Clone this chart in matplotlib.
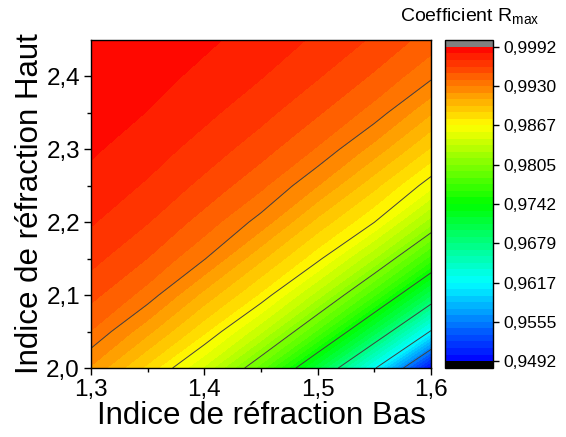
import numpy as np
import matplotlib
matplotlib.use("Agg")
import matplotlib.pyplot as plt
from matplotlib.colors import LinearSegmentedColormap, Normalize

plt.rcParams['font.family'] = ['Liberation Sans', 'DejaVu Sans']

# indices (bas = x, haut = y)
n_bas = [1.30, 1.35, 1.40, 1.45, 1.50, 1.55, 1.60]
n_haut = [2.00, 2.05, 2.10, 2.15, 2.20, 2.25, 2.30, 2.35, 2.40, 2.45]

R_max = [
    [0.99177, 0.98848, 0.98444, 0.97884, 0.97132, 0.96206, 0.94920],
    [0.99395, 0.99116, 0.98797, 0.98377, 0.97811, 0.97069, 0.96147],
    [0.99536, 0.99354, 0.99051, 0.98753, 0.98307, 0.97744, 0.97008],
    [0.99642, 0.99501, 0.99302, 0.99002, 0.98704, 0.98252, 0.97681],
    [0.99722, 0.99612, 0.99458, 0.99250, 0.98948, 0.98671, 0.98193],
    [0.99783, 0.99698, 0.99577, 0.99424, 0.99192, 0.98909, 0.98604],
    [0.99830, 0.99762, 0.99668, 0.99548, 0.99387, 0.99147, 0.98864],
    [0.99865, 0.99813, 0.99738, 0.99643, 0.99516, 0.99355, 0.99096],
    [0.99893, 0.99851, 0.99792, 0.99717, 0.99616, 0.99488, 0.99317],
    [0.99915, 0.99881, 0.99834, 0.99775, 0.99694, 0.99592, 0.99456],
]

cb_ticks = [0.9492, 0.95545, 0.9617, 0.96795, 0.9742, 0.98045, 0.9867, 0.99295, 0.9992]
cb_labels = ['0,9492', '0,9555', '0,9617', '0,9679', '0,9742', '0,9805', '0,9867', '0,9930', '0,9992']
x_ticks = [1.3, 1.4, 1.5, 1.6]
x_labels = ['1,3', '1,4', '1,5', '1,6']
y_ticks = [2.0, 2.1, 2.2, 2.3, 2.4]
y_labels = ['2,0', '2,1', '2,2', '2,3', '2,4']

X, Y = np.meshgrid(n_bas, n_haut)
Z = np.array(R_max)

rmin, rmax = cb_ticks[0], cb_ticks[-1]
levels = np.linspace(rmin, rmax, 49)
line_levels = cb_ticks[1:-1]

cmap = LinearSegmentedColormap.from_list(
    'origin', ['#0000ff', '#00ffff', '#00ff00', '#ffff00', '#ff0000'])
cmap.set_under('black')
cmap.set_over('#808080')

fig = plt.figure(figsize=(5.66, 4.37), dpi=100)
ax = fig.add_axes([91/566, 69/437, 340/566, 328/437])
cax = fig.add_axes([445/566, 69/437, 48/566, 328/437])

cs = ax.contourf(X, Y, Z, levels=levels, cmap=cmap,
                 norm=Normalize(rmin, rmax), extend='both')
ax.contour(X, Y, Z, levels=line_levels, colors='#404040', linewidths=0.7)

ax.set_xlim(1.3, 1.6)
ax.set_ylim(2.0, 2.45)
ax.set_xticks(x_ticks, x_labels)
ax.set_yticks(y_ticks, y_labels)
ax.set_xticks([1.35, 1.45, 1.55], minor=True)
ax.set_yticks([2.05, 2.15, 2.25, 2.35], minor=True)
ax.tick_params(which='both', direction='out', labelsize=17.5, width=1)
ax.tick_params(which='major', length=5, pad=3)
ax.tick_params(which='minor', length=3)
for s in ax.spines.values():
    s.set_linewidth(1)
ax.set_xlabel('Indice de réfraction Bas', fontsize=22.5, labelpad=0)
ax.set_ylabel('Indice de réfraction Haut', fontsize=22.5, labelpad=1)

cb = fig.colorbar(cs, cax=cax, extendrect=True, extendfrac=0.022)
cb.set_ticks(cb_ticks, labels=cb_labels)
cb.ax.tick_params(labelsize=12.5, length=4, width=1, direction='out')
cb.outline.set_linewidth(1)
fig.text(0.83, 0.961, 'Coefficient R$_\\mathregular{max}$', fontsize=14,
         ha='center', va='center')

fig.savefig('out.png', dpi=100)
